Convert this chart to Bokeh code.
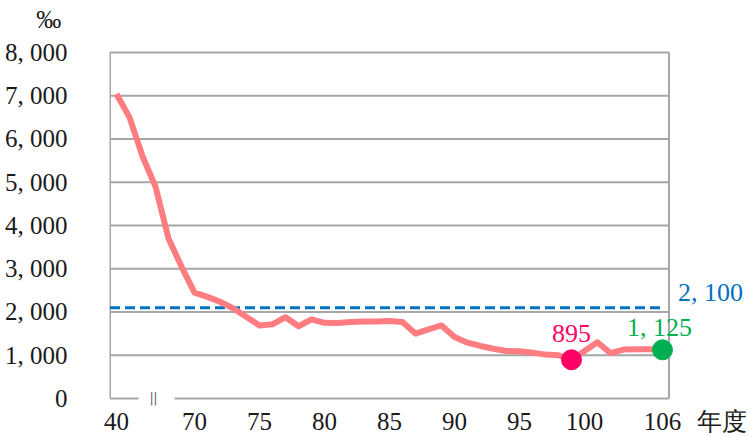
from bokeh.plotting import figure
from bokeh.models import Range1d, FixedTicker, Label
from bokeh.embed import file_html
from bokeh.resources import INLINE

# ---- data ----
years = [40, 45, 50, 55, 60, 65,
         70, 71, 72, 73, 74, 75, 76, 77, 78, 79,
         80, 81, 82, 83, 84, 85, 86, 87, 88, 89,
         90, 91, 92, 93, 94, 95, 96, 97, 98, 99,
         100, 101, 102, 103, 104, 105, 106]
values = [7040, 6500, 5600, 4900, 3700, 3050,
          2450, 2350, 2230, 2080, 1885, 1690, 1715, 1880, 1670, 1830,
          1750, 1745, 1770, 1780, 1780, 1790, 1770, 1500, 1600, 1690,
          1420, 1290, 1215, 1150, 1100, 1090, 1060, 1015, 1000, 895,
          1100, 1300, 1050, 1130, 1140, 1140, 1125]
target = 2100
low_year, low_value = 99, 895
last_year, last_value = 106, 1125
x_tick_years = [40, 70, 75, 80, 85, 90, 95, 100, 106]
y_ticks = [0, 1000, 2000, 3000, 4000, 5000, 6000, 7000, 8000]
y_tick_labels = ["0", "1, 000", "2, 000", "3, 000", "4, 000",
                 "5, 000", "6, 000", "7, 000", "8, 000"]
unit_label = "‰"
unit_pos = 8760
x_unit_label = "年度"
x_unit_pos = 46.54
target_label = "2, 100"
low_label = "895"
last_label = "1, 125"

xs = list(range(len(years)))
n = len(years)
x_lo, x_hi = -0.5, n - 0.5

FONT = "Liberation Serif"
GRAY = "#a6a6a6"
TXT = "#1a1a1a"

p = figure(width=750, height=437,
           min_border_left=109, min_border_right=0,
           min_border_top=2, min_border_bottom=32,
           x_range=Range1d(-0.538, 48.77), y_range=Range1d(-162, 9156),
           output_backend="svg", toolbar_location=None,
           background_fill_color="white", border_fill_color="white")
p.outline_line_color = None
p.xgrid.visible = False
p.ygrid.visible = False

# y axis (numbers + unit mark)
p.yaxis.ticker = FixedTicker(ticks=y_ticks + [unit_pos])
ov = {t: l for t, l in zip(y_ticks, y_tick_labels)}
ov[unit_pos] = unit_label + "\u2005"
p.yaxis.major_label_overrides = ov
p.yaxis.major_tick_line_color = None
p.yaxis.minor_tick_line_color = None
p.yaxis.axis_line_color = None
p.yaxis.major_label_text_font = FONT
p.yaxis.major_label_text_font_size = "25px"
p.yaxis.major_label_text_color = TXT
p.yaxis.major_label_standoff = 36

# x axis (years + unit)
tick_idx = [years.index(t) for t in x_tick_years]
p.xaxis.ticker = FixedTicker(ticks=tick_idx + [x_unit_pos])
xov = {i: str(t) for i, t in zip(tick_idx, x_tick_years)}
xov[x_unit_pos] = x_unit_label
p.xaxis.major_label_overrides = xov
p.xaxis.major_tick_line_color = None
p.xaxis.minor_tick_line_color = None
p.xaxis.axis_line_color = None
p.xaxis.major_label_text_font = FONT
p.xaxis.major_label_text_font_size = "25px"
p.xaxis.major_label_text_color = TXT
p.xaxis.major_label_standoff = -4

# plot box: horizontal grid lines, left/right sides, broken bottom
grid_y = y_ticks[1:]
p.segment(x0=[x_lo] * len(grid_y), y0=grid_y, x1=[x_hi] * len(grid_y), y1=grid_y,
          line_color=GRAY, line_width=2)
p.segment(x0=[x_lo, x_hi], y0=[0, 0], x1=[x_lo, x_hi], y1=[y_ticks[-1]] * 2,
          line_color=GRAY, line_width=2)
p.segment(x0=[x_lo, 4.46], y0=[0, 0], x1=[1.7, x_hi], y1=[0, 0],
          line_color=GRAY, line_width=2)
p.add_layout(Label(x=2.85, y=0, text="||", text_align="center", text_baseline="middle",
                   text_font=FONT, text_font_size="19px", text_color="#555555"))

# target dashed line
p.line([x_lo, xs[-1]], [target, target], line_color="#0070c0",
       line_width=3, line_dash="10 5")

# main line
p.line(xs, values, line_color="#ff7c80", line_width=6, line_join="round")

# markers
li = years.index(low_year)
la = years.index(last_year)
p.scatter([li], [low_value], size=20, fill_color="#ff0066", line_color="#ff0066")
p.scatter([la], [last_value], size=20, fill_color="#00b050", line_color="#00b050")

# annotations
p.add_layout(Label(x=li, y=low_value, text=low_label, text_align="center",
                   text_baseline="alphabetic", y_offset=26,
                   text_font=FONT, text_font_size="26px", text_color="#ff0066"))
p.add_layout(Label(x=la, y=last_value, text=last_label, text_align="center",
                   text_baseline="alphabetic", x_offset=-3, y_offset=22,
                   text_font=FONT, text_font_size="26px", text_color="#00b050"))
p.add_layout(Label(x=x_hi, y=target, text=target_label, text_align="left",
                   text_baseline="alphabetic", x_offset=9, y_offset=15,
                   text_font=FONT, text_font_size="26px", text_color="#0070c0"))

open("out.html", "w").write(file_html(p, INLINE))
